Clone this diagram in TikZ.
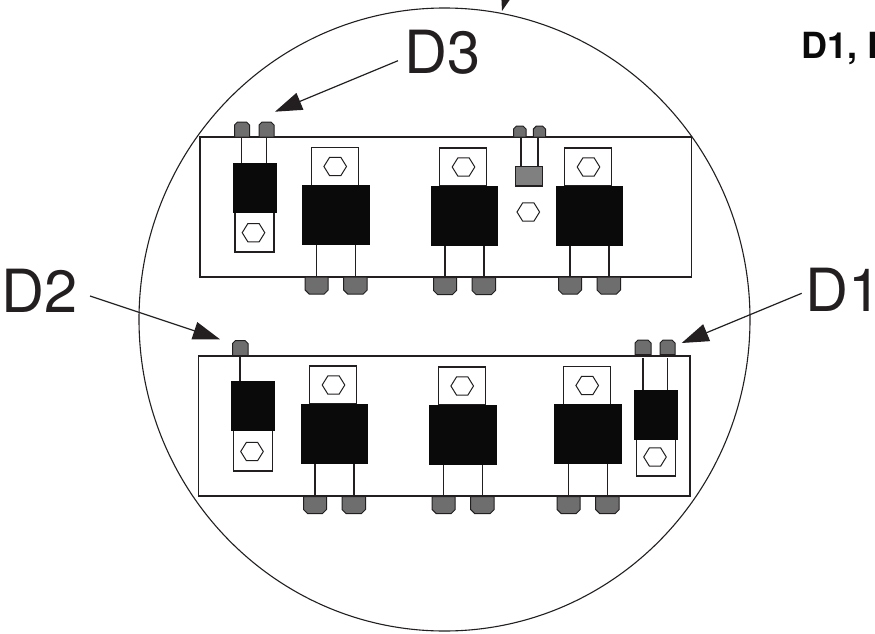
\documentclass[tikz,border=0pt]{standalone}
\usepackage{fontspec}
\setmainfont{TeX Gyre Heros}
\usetikzlibrary{arrows.meta}
\definecolor{ink}{HTML}{231F20}
\definecolor{padgray}{HTML}{6E6E6E}
\definecolor{capgray}{HTML}{808080}
\definecolor{body}{HTML}{0A0A0A}
\tikzset{
  wire/.style={draw=ink,line width=1.3pt},
  boardbox/.style={draw=ink,line width=1.3pt,fill=white},
  tabbox/.style={draw=ink,line width=1.3pt,fill=white},
  blackbox/.style={draw=body,line width=0.6pt,fill=body},
  padshape/.style={draw=ink,line width=1pt,fill=padgray},
  hexshape/.style={draw=ink,line width=1pt,fill=white},
  bigtext/.style={inner sep=0pt,anchor=base west,text=ink,font=\fontsize{59.5}{62}\selectfont},
  boldtext/.style={inner sep=0pt,anchor=base west,text=body,font=\bfseries\fontsize{36}{38}\selectfont},
  callout/.style={draw=ink,line width=1.2pt,-{Triangle[length=27pt,width=18pt]}}
}
% pad with chamfers at the top
\newcommand{\padup}[4]{\path[padshape] (#1,#4) -- (#1,#3+3) -- (#1+3,#3) -- (#2-3,#3) -- (#2,#3+3) -- (#2,#4) -- cycle;}
% pad with chamfers at the bottom
\newcommand{\paddown}[4]{\path[padshape] (#1,#3) -- (#1,#4-4) -- (#1+4,#4) -- (#2-4,#4) -- (#2,#4-4) -- (#2,#3) -- cycle;}
% hexagon centred at x,y
\newcommand{\hexat}[2]{\path[hexshape] (#1-11.3,#2) -- (#1-5.6,#2-9.2) -- (#1+5.6,#2-9.2) -- (#1+11.3,#2) -- (#1+5.6,#2+9.2) -- (#1-5.6,#2+9.2) -- cycle;}
% large device: left edge of body, top of body, board bottom
\newcommand{\bigdev}[3]{%
  \draw[wire] (#1+14,#2+58) -- (#1+14,#3);
  \draw[wire] (#1+53,#2+58) -- (#1+53,#3);
  \path[tabbox] (#1+8.5,#2-38) rectangle (#1+55.5,#2);
  \hexat{#1+32.5}{#2-19}
  \path[blackbox] (#1,#2) rectangle (#1+66.5,#2+59);
  \paddown{#1+2.5}{#1+25.5}{#3}{#3+17}
  \paddown{#1+41}{#1+64.5}{#3}{#3+17}
}
\begin{document}
\begin{tikzpicture}[x=1pt,y=-1pt]
\useasboundingbox (0,0) rectangle (875,634);
\clip (0,0) rectangle (875,634);
\fill[white] (0,0) rectangle (875,634);
% lens outline
\draw[ink,line width=1.1pt] (444.5,319.5) ellipse [x radius=305.5,y radius=311.5];
% upper board
\path[boardbox] (200,137) rectangle (691.5,277);
\bigdev{302.7}{185.5}{277}
\bigdev{431}{186}{277.5}
\bigdev{556}{186}{277}
% upper left small device
\draw[wire] (241.7,137) -- (241.7,163);
\draw[wire] (266.3,137) -- (266.3,163);
\path[tabbox] (235,212) rectangle (274,252);
\hexat{253.5}{232.7}
\path[blackbox] (233,163) rectangle (276,212);
\padup{234.5}{249.5}{122}{137}
\padup{259}{274}{122}{137}
% upper centre small device
\draw[wire] (521,137) -- (521,167);
\draw[wire] (538,137) -- (538,167);
\path[draw=ink,line width=1.2pt,fill=capgray] (515.3,166.7) rectangle (542.7,186);
\hexat{528.3}{212}
\padup{513.5}{526}{126}{137}
\padup{533.3}{545.5}{126}{137}
% lower board
\path[boardbox] (198.5,356) rectangle (690,496);
\bigdev{301}{404}{496.5}
\bigdev{429.7}{405}{496.5}
\bigdev{554.7}{404.5}{496.5}
% lower left small device
\draw[wire] (240,356) -- (240,382);
\path[tabbox] (233.5,430) rectangle (272.5,471);
\hexat{252}{451.5}
\path[blackbox] (231.3,381.7) rectangle (274.3,430.7);
\padup{232.5}{248}{340.5}{355.5}
% lower right small device
\draw[wire] (643,358) -- (643,391);
\draw[wire] (667.5,358) -- (667.5,391);
\path[tabbox] (636.7,439) rectangle (675.3,476);
\hexat{655}{457}
\path[blackbox] (634.3,390.5) rectangle (677.3,439);
\padup{635}{651}{340}{354.5}
\padup{660}{675}{340}{354.5}
% labels
\node[bigtext] (labD3) at (404.3,74) {D3};
\node[bigtext] (labD2) at (1.3,312) {D2};
\node[bigtext] (labD1) at (805.3,311.7) {D1};
\node[boldtext] (labtitle) at (801.5,59) {D1, D};
% callouts
\coordinate (tipD3) at (275,111.7);
\coordinate (tipD2) at (220,339.3);
\coordinate (tipD1) at (681.7,343);
\coordinate (tipTop) at (502,11);
\coordinate (tailTop) at (518,-45);
\coordinate (tailD3) at (398,60.7);
\coordinate (tailD2) at (90,296);
\coordinate (tailD1) at (801.7,293.3);
\draw[callout] (tailD3) -- (tipD3);
\draw[callout] (tailD2) -- (tipD2);
\draw[callout] (tailD1) -- (tipD1);
\draw[callout] (tailTop) -- (tipTop);
\end{tikzpicture}
\end{document}
